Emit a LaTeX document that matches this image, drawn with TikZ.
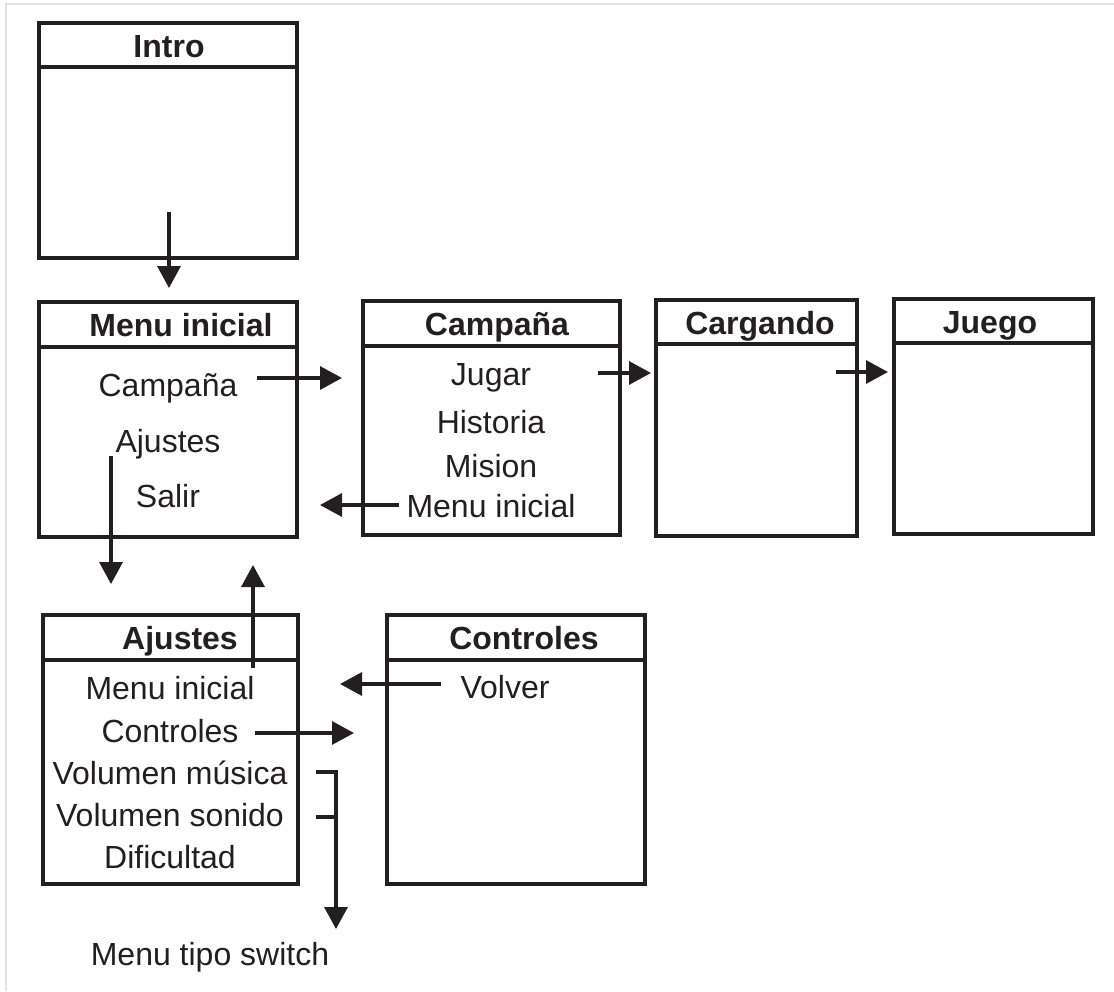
\documentclass[tikz,border=0pt]{standalone}
\usepackage{fontspec}
\setmainfont{Liberation Sans}
\usetikzlibrary{positioning,arrows.meta,fit}
\definecolor{tinta}{HTML}{231F20}
\definecolor{marco}{HTML}{E2E2E2}
\tikzset{
  pantalla/.style={draw=tinta,line width=1.75pt,inner sep=0pt},
  separador/.style={draw=tinta,line width=2.3pt},
  titulo/.style={font=\bfseries\fontsize{16}{19}\selectfont,text=tinta,inner sep=0pt,anchor=base},
  opcion/.style={font=\fontsize{16}{19}\selectfont,text=tinta,inner sep=0pt,anchor=base},
  flecha/.style={-{Triangle[length=11pt,width=11.5pt]},line width=1.7pt,draw=tinta},
  linea/.style={line width=1.7pt,draw=tinta},
}
\begin{document}
\begin{tikzpicture}[x=0.5pt,y=-0.5pt]
  \useasboundingbox (0,0) rectangle (1114,991);
  \draw[marco,line width=0.8pt] (6,991) -- (6,4) -- (1114,4);
  \newcommand{\pantallabox}[8]{% #1 nombre, #2 izq, #3 arriba, #4 separador, #5 der, #6 abajo, #7 x titulo, #8 titulo
    \node[pantalla,fit={(#2,#3) (#5,#6)}] (#1) {};
    \draw[separador] (#2,#4) -- (#5,#4);
    \node[titulo] (#1-tit) at (#7,{(#3+#4)/2+12}) {#8};}
  % pantallas
  \pantallabox{intro}{39}{23}{67}{297}{258}{169}{Intro}
  \pantallabox{menu}{39}{302}{347}{297}{537}{181}{Menu inicial}
  \pantallabox{campana}{363}{301}{346}{620}{535}{497}{Campaña}
  \pantallabox{cargando}{656}{300}{344}{857}{536}{760}{Cargando}
  \pantallabox{juego}{894}{299}{343}{1093}{534}{990}{Juego}
  \pantallabox{ajustes}{43}{615}{660}{298}{884}{180}{Ajustes}
  \pantallabox{controles}{387}{615}{660}{645}{884}{524}{Controles}
  % opciones
  \node[opcion] (mCampana) at (168,396) {Campaña};
  \node[opcion] (mAjustes) at (168,452) {Ajustes};
  \node[opcion] (mSalir) at (168,507) {Salir};
  \node[opcion] (cJugar) at (491,385) {Jugar};
  \node[opcion] (cHistoria) at (491,433) {Historia};
  \node[opcion] (cMision) at (491,477) {Mision};
  \node[opcion] (cMenu) at (491,517) {Menu inicial};
  \node[opcion] (aMenu) at (170,699) {Menu inicial};
  \node[opcion] (aControles) at (170,742) {Controles};
  \node[opcion] (aMusica) at (170,784) {Volumen música};
  \node[opcion] (aSonido) at (170,826) {Volumen sonido};
  \node[opcion] (aDificultad) at (170,868) {Dificultad};
  \node[opcion] (kVolver) at (505,698) {Volver};
  \node[opcion] (switch) at (210,965) {Menu tipo switch};
  % extremos de las flechas
  \coordinate (i1) at (169,212);  \coordinate (i2) at (169,288);
  \coordinate (m1) at (257,378);  \coordinate (m2) at (342,378);
  \coordinate (j1) at (598,373);  \coordinate (j2) at (651,373);
  \coordinate (g1) at (836,372);  \coordinate (g2) at (888,372);
  \coordinate (v1) at (399,505);  \coordinate (v2) at (320,505);
  \coordinate (s1) at (111,456);  \coordinate (s2) at (111,584);
  \coordinate (u1) at (253,668);  \coordinate (u2) at (253,565);
  \coordinate (k1) at (441,684);  \coordinate (k2) at (340,684);
  \coordinate (t1) at (255,733);  \coordinate (t2) at (354,733);
  \coordinate (w1) at (316,772);  \coordinate (w2) at (316,817);
  \coordinate (w3) at (336,929);
  % flechas
  \draw[flecha] (i1) -- (i2);
  \draw[flecha] (m1) -- (m2);
  \draw[flecha] (j1) -- (j2);
  \draw[flecha] (g1) -- (g2);
  \draw[flecha] (v1) -- (v2);
  \draw[flecha] (s1) -- (s2);
  \draw[flecha] (u1) -- (u2);
  \draw[flecha] (k1) -- (k2);
  \draw[flecha] (t1) -- (t2);
  \draw[flecha] (w1) -| (w3);
  \draw[linea] (w2) -- (w2 -| w3);
\end{tikzpicture}
\end{document}
